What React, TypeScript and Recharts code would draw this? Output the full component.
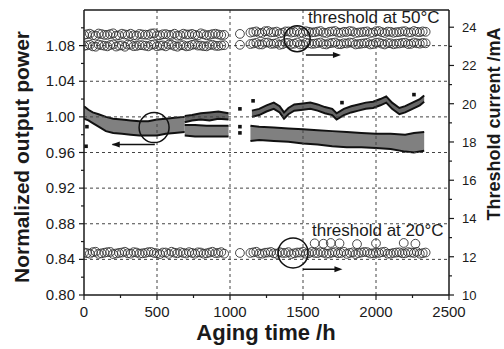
import React from 'react';
import {
  ComposedChart,
  Area,
  Scatter,
  XAxis,
  YAxis,
  ReferenceLine,
  ReferenceDot
} from 'recharts';

// threshold current, circles, sampled hours (two interleaved sets per row)
const hoursA = [0, 40, 80, 120, 160, 200, 240, 280, 320, 360, 400, 440, 480, 520, 560, 600, 640, 680, 720, 760, 800, 840, 880, 920, 960];
const hoursA2 = [20, 60, 100, 140, 180, 220, 260, 300, 340, 380, 420, 460, 500, 540, 580, 620, 660, 700, 740, 780, 820, 860, 900, 940];
const hoursB = [1140, 1180, 1220, 1260, 1300, 1340, 1380, 1420, 1460, 1500, 1540, 1580, 1620, 1660, 1700, 1740, 1780, 1820, 1860, 1900, 1940, 1980, 2020, 2060, 2100, 2140, 2180, 2220, 2260, 2300, 2340];
const hoursB2 = [1160, 1200, 1240, 1280, 1320, 1360, 1400, 1440, 1480, 1520, 1560, 1600, 1640, 1680, 1720, 1760, 1800, 1840, 1880, 1920, 1960, 2000, 2040, 2080, 2120, 2160, 2200, 2240, 2280, 2320];
const gapHours = [1068];

const t50UpperA = [23.6, 23.66, 23.56, 23.64, 23.6, 23.68, 23.58, 23.62, 23.66, 23.56, 23.62, 23.6, 23.68, 23.58, 23.64, 23.6, 23.56, 23.66, 23.62, 23.6, 23.68, 23.58, 23.64, 23.62, 23.6];
const t50UpperA2 = [23.63, 23.58, 23.67, 23.6, 23.64, 23.56, 23.66, 23.6, 23.58, 23.65, 23.61, 23.67, 23.57, 23.63, 23.6, 23.66, 23.58, 23.62, 23.65, 23.57, 23.63, 23.6, 23.66, 23.59];
const t50LowerA = [23.02, 23.08, 22.98, 23.06, 23.0, 23.1, 23.04, 22.98, 23.08, 23.02, 23.06, 23.0, 23.1, 23.04, 23.0, 23.08, 22.98, 23.06, 23.02, 23.1, 23.04, 23.0, 23.08, 23.02, 23.06];
const t50LowerA2 = [23.05, 23.0, 23.09, 23.03, 23.07, 22.99, 23.05, 23.09, 23.01, 23.06, 23.03, 23.08, 23.0, 23.05, 23.09, 23.02, 23.06, 23.0, 23.08, 23.04, 23.01, 23.07, 23.03, 23.05];
const t50UpperB = [23.72, 23.78, 23.7, 23.8, 23.74, 23.68, 23.78, 23.72, 23.8, 23.7, 23.76, 23.74, 23.8, 23.7, 23.78, 23.72, 23.76, 23.8, 23.7, 23.74, 23.78, 23.72, 23.8, 23.7, 23.76, 23.74, 23.78, 23.72, 23.8, 23.74, 23.76];
const t50UpperB2 = [23.75, 23.7, 23.79, 23.73, 23.77, 23.71, 23.78, 23.74, 23.7, 23.79, 23.73, 23.77, 23.72, 23.76, 23.8, 23.71, 23.75, 23.78, 23.72, 23.76, 23.7, 23.79, 23.74, 23.77, 23.71, 23.75, 23.79, 23.73, 23.76, 23.78];
const t50LowerB = [23.12, 23.18, 23.1, 23.2, 23.14, 23.08, 23.18, 23.12, 23.2, 23.1, 23.16, 23.14, 23.2, 23.1, 23.18, 23.12, 23.16, 23.2, 23.1, 23.14, 23.18, 23.12, 23.2, 23.1, 23.16, 23.14, 23.18, 23.12, 23.2, 23.14, 23.16];
const t50LowerB2 = [23.15, 23.1, 23.19, 23.13, 23.17, 23.11, 23.18, 23.14, 23.1, 23.19, 23.13, 23.17, 23.12, 23.16, 23.2, 23.11, 23.15, 23.18, 23.12, 23.16, 23.1, 23.19, 23.14, 23.17, 23.11, 23.15, 23.19, 23.13, 23.16, 23.18];
const t50Gap = [23.65, 23.08];

const t20A = [12.22, 12.16, 12.26, 12.18, 12.24, 12.14, 12.2, 12.26, 12.16, 12.22, 12.18, 12.24, 12.2, 12.14, 12.22, 12.26, 12.18, 12.2, 12.24, 12.16, 12.22, 12.18, 12.26, 12.2, 12.16];
const t20A2 = [12.19, 12.24, 12.15, 12.21, 12.25, 12.17, 12.22, 12.18, 12.24, 12.16, 12.2, 12.25, 12.18, 12.22, 12.15, 12.21, 12.24, 12.17, 12.2, 12.23, 12.16, 12.22, 12.19, 12.24];
const t20B = [12.2, 12.26, 12.16, 12.22, 12.18, 12.24, 12.2, 12.14, 12.22, 12.26, 12.18, 12.2, 12.24, 12.16, 12.22, 12.18, 12.26, 12.2, 12.14, 12.22, 12.24, 12.18, 12.2, 12.26, 12.16, 12.22, 12.18, 12.24, 12.2, 12.16, 12.22];
const t20B2 = [12.23, 12.17, 12.21, 12.25, 12.15, 12.2, 12.24, 12.18, 12.22, 12.16, 12.25, 12.19, 12.21, 12.17, 12.24, 12.2, 12.15, 12.23, 12.19, 12.25, 12.17, 12.21, 12.24, 12.16, 12.2, 12.23, 12.18, 12.22, 12.25, 12.19];
const t20Gap = [12.2];
const t20ExtraHours = [1580, 1640, 1690, 1750, 1870, 2000, 2190, 2270];
const t20Extra = [12.7, 12.68, 12.72, 12.7, 12.66, 12.7, 12.72, 12.68];

// normalized output power, bands as [low, high]
const powMainHours = [0, 30, 60, 100, 150, 200, 260, 320, 380, 440, 500, 560, 620, 690];
const powMainLow = [0.998, 0.996, 0.993, 0.989, 0.984, 0.982, 0.981, 0.98, 0.979, 0.979, 0.979, 0.981, 0.982, 0.983];
const powMainHigh = [1.012, 1.008, 1.005, 1.003, 1.0, 0.998, 0.997, 0.996, 0.995, 0.995, 0.997, 0.998, 0.999, 1.0];

const powUp1Hours = [690, 740, 800, 860, 920, 990];
const powUp1Low = [0.994, 0.996, 0.997, 0.996, 0.998, 0.997];
const powUp1High = [1.001, 1.002, 1.004, 1.005, 1.006, 1.004];

const powLo1Hours = [690, 760, 840, 920, 990];
const powLo1Low = [0.979, 0.978, 0.978, 0.978, 0.978];
const powLo1High = [0.991, 0.991, 0.99, 0.99, 0.99];

const powUp2Hours = [1150, 1200, 1250, 1300, 1340, 1370, 1400, 1440, 1500, 1550, 1600, 1650, 1700, 1730, 1780, 1830, 1880, 1930, 1980, 2030, 2070, 2110, 2160, 2200, 2250, 2300, 2330];
const powUp2Low = [1.0, 1.002, 1.006, 1.009, 1.005, 0.998, 1.003, 1.007, 1.008, 1.009, 1.007, 1.004, 1.002, 0.997, 1.002, 1.005, 1.007, 1.009, 1.01, 1.013, 1.016, 1.009, 1.003, 1.005, 1.009, 1.013, 1.017];
const powUp2High = [1.007, 1.009, 1.013, 1.016, 1.012, 1.005, 1.01, 1.014, 1.015, 1.016, 1.014, 1.011, 1.009, 1.004, 1.009, 1.012, 1.014, 1.016, 1.017, 1.02, 1.023, 1.016, 1.01, 1.012, 1.016, 1.02, 1.024];

const powLo2Hours = [1140, 1200, 1300, 1400, 1500, 1600, 1700, 1800, 1900, 2000, 2100, 2200, 2260, 2330];
const powLo2Low = [0.973, 0.974, 0.973, 0.972, 0.97, 0.969, 0.967, 0.966, 0.966, 0.965, 0.964, 0.961, 0.96, 0.962];
const powLo2High = [0.99, 0.989, 0.988, 0.987, 0.986, 0.985, 0.984, 0.983, 0.982, 0.981, 0.981, 0.98, 0.982, 0.983];

const powDotHours = [14, 20, 1068, 1068, 1068, 1158, 1767, 2260];
const powDots = [0.967, 0.989, 1.009, 0.989, 0.982, 1.018, 1.016, 1.025];

// axes
const xTicks = [0, 250, 500, 750, 1000, 1250, 1500, 1750, 2000, 2250, 2500];
const xMajor = [0, 500, 1000, 1500, 2000, 2500];
const leftTicks = [0.8, 0.82, 0.84, 0.86, 0.88, 0.9, 0.92, 0.94, 0.96, 0.98, 1.0, 1.02, 1.04, 1.06, 1.08, 1.1];
const leftMajor = [0.8, 0.84, 0.88, 0.92, 0.96, 1.0, 1.04, 1.08];
const rightTicks = [10, 11, 12, 13, 14, 15, 16, 17, 18, 19, 20, 21, 22, 23, 24];
const rightMajor = [10, 12, 14, 16, 18, 20, 22, 24];

const pts = (hs: number[], vs: number[]) => hs.map((h, i) => ({ h, v: vs[i] }));
const band = (hs: number[], lo: number[], hi: number[]) => hs.map((h, i) => ({ h, r: [lo[i], hi[i]] }));
const isIn = (list: number[], v: number) => list.some((m) => Math.abs(m - v) < 1e-6);

const FONT = '"Liberation Sans", Arial, Helvetica, sans-serif';
const INK = '#1a1a1a';
const TS = 5;
const TM = 4;

const LeftTick = (p: any) => {
  const v = p.payload.value;
  const ax = p.x + TS + TM;
  const major = isIn(leftMajor, v);
  return (
    <g>
      <line x1={ax - (major ? 5 : 3)} x2={ax} y1={p.y} y2={p.y} stroke={INK} strokeWidth={1.2} />
      {major && (
        <text x={ax - 9} y={p.y} dy={5} textAnchor="end" fontSize={15} fontFamily={FONT} fill={INK}>
          {v.toFixed(2)}
        </text>
      )}
    </g>
  );
};

const RightTick = (p: any) => {
  const v = p.payload.value;
  const ax = p.x - TS - TM;
  const major = isIn(rightMajor, v);
  return (
    <g>
      <line x1={ax} x2={ax + (major ? 5 : 3)} y1={p.y} y2={p.y} stroke={INK} strokeWidth={1.2} />
      {major && (
        <text x={ax + 13} y={p.y} dy={5} textAnchor="start" fontSize={13} fontFamily={FONT} fill={INK}>
          {v}
        </text>
      )}
    </g>
  );
};

const BottomTick = (p: any) => {
  const v = p.payload.value;
  const ay = p.y - TS - TM;
  const major = isIn(xMajor, v);
  return (
    <g>
      <line x1={p.x} x2={p.x} y1={ay} y2={ay + (major ? 5 : 3)} stroke={INK} strokeWidth={1.2} />
      {major && (
        <text x={p.x} y={ay + 22} textAnchor="middle" fontSize={15} fontFamily={FONT} fill={INK}>
          {v}
        </text>
      )}
    </g>
  );
};

const OpenCircle = (p: any) => (
  <circle cx={p.cx} cy={p.cy} r={4.4} fill="none" stroke="#333" strokeWidth={0.9} />
);
const Square = (p: any) => <rect x={p.cx - 1.8} y={p.cy - 1.8} width={3.6} height={3.6} fill="#111" />;
const ArrowLeft = (p: any) => (
  <polygon points={`${p.cx},${p.cy} ${p.cx + 8},${p.cy - 3} ${p.cx + 8},${p.cy + 3}`} fill="#111" />
);
const ArrowRight = (p: any) => (
  <polygon points={`${p.cx},${p.cy} ${p.cx - 8},${p.cy - 3} ${p.cx - 8},${p.cy + 3}`} fill="#111" />
);

const grid = { stroke: '#444', strokeDasharray: '3 3', strokeWidth: 1 };

const circleRows: [number[], number[]][] = [
  [hoursA, t50UpperA], [hoursA2, t50UpperA2], [hoursA, t50LowerA], [hoursA2, t50LowerA2],
  [hoursB, t50UpperB], [hoursB2, t50UpperB2], [hoursB, t50LowerB], [hoursB2, t50LowerB2],
  [[gapHours[0], gapHours[0]], t50Gap],
  [hoursA, t20A], [hoursA2, t20A2], [hoursB, t20B], [hoursB2, t20B2],
  [gapHours, t20Gap], [t20ExtraHours, t20Extra]
];

export default function App() {
  return (
    <div style={{ position: 'absolute', left: 0, top: 0, background: '#fff' }}>
      <ComposedChart width={504} height={349} margin={{ top: 10, right: 0, bottom: 0, left: 0 }}>
        <XAxis
          xAxisId="x"
          dataKey="h"
          type="number"
          domain={[0, 2500]}
          ticks={xTicks}
          interval={0}
          height={54}
          tickSize={TS}
          tickMargin={TM}
          tickLine={false}
          tick={<BottomTick />}
          axisLine={{ stroke: INK, strokeWidth: 1.5 }}
          allowDataOverflow
        />
        <YAxis
          yAxisId="left"
          type="number"
          domain={[0.8, 1.12]}
          ticks={leftTicks}
          interval={0}
          width={84}
          tickSize={TS}
          tickMargin={TM}
          tickLine={false}
          tick={<LeftTick />}
          axisLine={{ stroke: INK, strokeWidth: 1.5 }}
          allowDataOverflow
        />
        <YAxis
          yAxisId="right"
          orientation="right"
          type="number"
          domain={[10, 24.9]}
          ticks={rightTicks}
          interval={0}
          width={55}
          tickSize={TS}
          tickMargin={TM}
          tickLine={false}
          tick={<RightTick />}
          axisLine={{ stroke: INK, strokeWidth: 1.5 }}
          allowDataOverflow
        />

        {leftMajor.slice(1).map((v) => (
          <ReferenceLine key={`gy${v}`} xAxisId="x" yAxisId="left" y={v} {...grid} />
        ))}
        {xMajor.slice(1, -1).map((v) => (
          <ReferenceLine key={`gx${v}`} xAxisId="x" yAxisId="left" x={v} {...grid} />
        ))}
        <ReferenceLine xAxisId="x" yAxisId="left" y={1.12} stroke={INK} strokeWidth={1.5} />

        <Area xAxisId="x" yAxisId="left" data={band(powMainHours, powMainLow, powMainHigh)} dataKey="r" type="linear" fill="#808080" fillOpacity={1} stroke="#111" strokeWidth={2} isAnimationActive={false} />
        <Area xAxisId="x" yAxisId="left" data={band(powUp1Hours, powUp1Low, powUp1High)} dataKey="r" type="linear" fill="#666" fillOpacity={1} stroke="#111" strokeWidth={2} isAnimationActive={false} />
        <Area xAxisId="x" yAxisId="left" data={band(powLo1Hours, powLo1Low, powLo1High)} dataKey="r" type="linear" fill="#808080" fillOpacity={1} stroke="#111" strokeWidth={2} isAnimationActive={false} />
        <Area xAxisId="x" yAxisId="left" data={band(powUp2Hours, powUp2Low, powUp2High)} dataKey="r" type="linear" fill="#666" fillOpacity={1} stroke="#111" strokeWidth={2} isAnimationActive={false} />
        <Area xAxisId="x" yAxisId="left" data={band(powLo2Hours, powLo2Low, powLo2High)} dataKey="r" type="linear" fill="#808080" fillOpacity={1} stroke="#111" strokeWidth={2} isAnimationActive={false} />
        <Scatter xAxisId="x" yAxisId="left" data={pts(powDotHours, powDots)} dataKey="v" shape={<Square />} isAnimationActive={false} />

        {circleRows.map(([hs, vs], i) => (
          <Scatter key={`c${i}`} xAxisId="x" yAxisId="right" data={pts(hs, vs)} dataKey="v" shape={<OpenCircle />} isAnimationActive={false} />
        ))}

        {/* annotation circles and arrows */}
        <ReferenceDot xAxisId="x" yAxisId="left" x={480} y={0.988} r={15} fill="none" stroke="#111" strokeWidth={1.5} />
        <ReferenceLine xAxisId="x" yAxisId="left" segment={[{ x: 195, y: 0.969 }, { x: 485, y: 0.969 }]} stroke="#111" strokeWidth={1.5} />
        <ReferenceDot xAxisId="x" yAxisId="left" x={190} y={0.969} r={1} shape={<ArrowLeft />} />

        <ReferenceDot xAxisId="x" yAxisId="right" x={1460} y={23.4} r={13} fill="none" stroke="#111" strokeWidth={1.5} />
        <ReferenceLine xAxisId="x" yAxisId="right" segment={[{ x: 1520, y: 22.55 }, { x: 1740, y: 22.55 }]} stroke="#111" strokeWidth={1.5} />
        <ReferenceDot xAxisId="x" yAxisId="right" x={1760} y={22.55} r={1} shape={<ArrowRight />} />

        <ReferenceDot xAxisId="x" yAxisId="right" x={1432} y={12.2} r={15} fill="none" stroke="#111" strokeWidth={1.5} />
        <ReferenceLine xAxisId="x" yAxisId="right" segment={[{ x: 1500, y: 11.35 }, { x: 1750, y: 11.35 }]} stroke="#111" strokeWidth={1.5} />
        <ReferenceDot xAxisId="x" yAxisId="right" x={1770} y={11.35} r={1} shape={<ArrowRight />} />

        <text x={308} y={23} fontSize={17} fontFamily={FONT} fill={INK}>threshold at 50°C</text>
        <text x={312} y={236} fontSize={17} fontFamily={FONT} fill={INK}>threshold at 20°C</text>

        <text x={29} y={157} transform="rotate(-90 29 157)" textAnchor="middle" fontSize={21} fontWeight="bold" fontFamily={FONT} fill={INK}>
          Normalized output power
        </text>
        <text x={500} y={124} transform="rotate(-90 500 124)" textAnchor="middle" fontSize={18} fontWeight="bold" fontFamily={FONT} fill={INK}>
          Threshold current /mA
        </text>
        <text x={266} y={340} textAnchor="middle" fontSize={22} fontWeight="bold" fontFamily={FONT} fill={INK}>
          Aging time /h
        </text>
      </ComposedChart>
    </div>
  );
}
